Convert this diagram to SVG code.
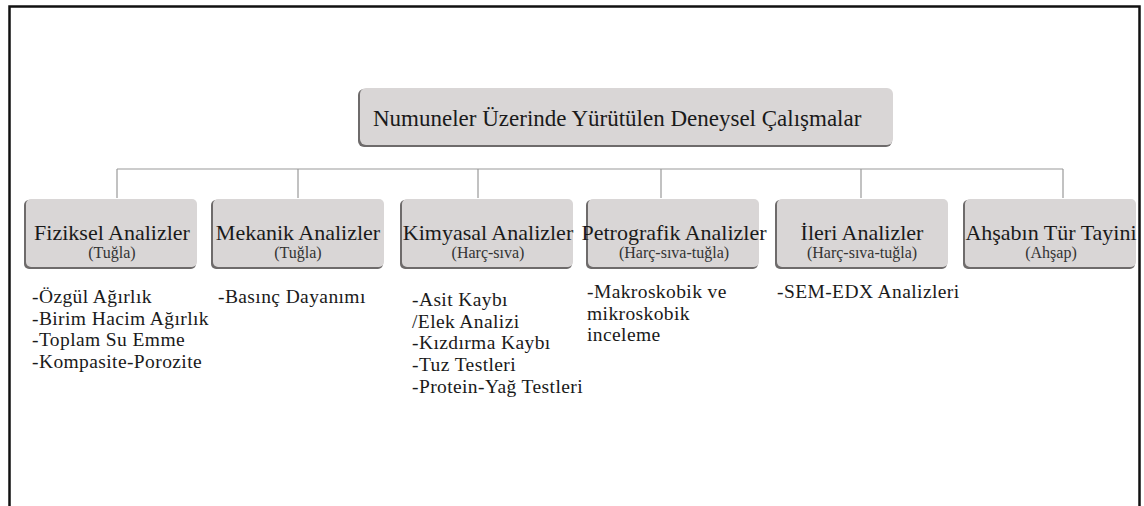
<svg xmlns="http://www.w3.org/2000/svg" width="1144" height="506" viewBox="0 0 1144 506">
<style>
.frame{fill:none;stroke:#111;stroke-width:2.5}
.sh{fill:#6e6b6b}
.bx{fill:#d9d6d6}
.ln{fill:none;stroke:#9a9a9a;stroke-width:1.2}
.t{font-family:"Liberation Serif","Times New Roman",serif;fill:#1a1a1a}
.h{font-size:22px;text-anchor:middle}
.s{font-size:16px;text-anchor:middle;fill:#333}
.l{font-size:19.5px;letter-spacing:0.4px}
</style>
<rect x="0" y="0" width="1144" height="506" fill="#fff"/>
<path class="frame" d="M9.5,507 V6.5 H1139.5 V507"/>
<g id="connectors">
<path class="ln" d="M117,169 H1063 M117,169 V198 M298,169 V198 M478,169 V198 M661,169 V198 M861,169 V198 M1063,169 V198"/>
</g>
<g id="root">
<rect class="sh" x="358" y="89" width="534" height="58" rx="6"/>
<rect class="bx" x="360" y="88" width="533" height="57" rx="6"/>
<text class="t" x="373" y="126" font-size="23">Numuneler Üzerinde Yürütülen Deneysel Çalışmalar</text>
</g>
<g id="n1">
<rect class="sh" x="24" y="200" width="172" height="69" rx="5"/>
<rect class="bx" x="26" y="199" width="171" height="68" rx="5"/>
<text class="t h" x="112" y="240">Fiziksel Analizler</text>
<text class="t s" x="112" y="258">(Tuğla)</text>
</g>
<g id="n2">
<rect class="sh" x="211" y="200" width="172" height="69" rx="5"/>
<rect class="bx" x="213" y="199" width="171" height="68" rx="5"/>
<text class="t h" x="298" y="240">Mekanik Analizler</text>
<text class="t s" x="298" y="258">(Tuğla)</text>
</g>
<g id="n3">
<rect class="sh" x="400" y="200" width="172" height="69" rx="5"/>
<rect class="bx" x="402" y="199" width="171" height="68" rx="5"/>
<text class="t h" x="488" y="240">Kimyasal Analizler</text>
<text class="t s" x="488" y="258">(Harç-sıva)</text>
</g>
<g id="n4">
<rect class="sh" x="586" y="200" width="172" height="69" rx="5"/>
<rect class="bx" x="588" y="199" width="171" height="68" rx="5"/>
<text class="t h" x="674" y="240">Petrografik Analizler</text>
<text class="t s" x="674" y="258">(Harç-sıva-tuğla)</text>
</g>
<g id="n5">
<rect class="sh" x="775" y="200" width="172" height="69" rx="5"/>
<rect class="bx" x="777" y="199" width="171" height="68" rx="5"/>
<text class="t h" x="862" y="240">İleri Analizler</text>
<text class="t s" x="862" y="258">(Harç-sıva-tuğla)</text>
</g>
<g id="n6">
<rect class="sh" x="963" y="200" width="172" height="69" rx="5"/>
<rect class="bx" x="965" y="199" width="171" height="68" rx="5"/>
<text class="t h" x="1051" y="240">Ahşabın Tür Tayini</text>
<text class="t s" x="1051" y="258">(Ahşap)</text>
</g>
<g id="lists">
<text class="t l" x="32" y="303">-Özgül Ağırlık</text>
<text class="t l" x="32" y="324.7">-Birim Hacim Ağırlık</text>
<text class="t l" x="32" y="346.4">-Toplam Su Emme</text>
<text class="t l" x="32" y="368.1">-Kompasite-Porozite</text>
<text class="t l" x="218" y="303">-Basınç Dayanımı</text>
<text class="t l" x="412" y="306">-Asit Kaybı</text>
<text class="t l" x="412" y="327.7">/Elek Analizi</text>
<text class="t l" x="412" y="349.4">-Kızdırma Kaybı</text>
<text class="t l" x="412" y="371.1">-Tuz Testleri</text>
<text class="t l" x="412" y="392.8">-Protein-Yağ Testleri</text>
<text class="t l" x="587" y="298">-Makroskobik ve</text>
<text class="t l" x="587" y="319.7">mikroskobik</text>
<text class="t l" x="587" y="341.4">inceleme</text>
<text class="t l" x="777" y="298">-SEM-EDX Analizleri</text>
</g>
</svg>
